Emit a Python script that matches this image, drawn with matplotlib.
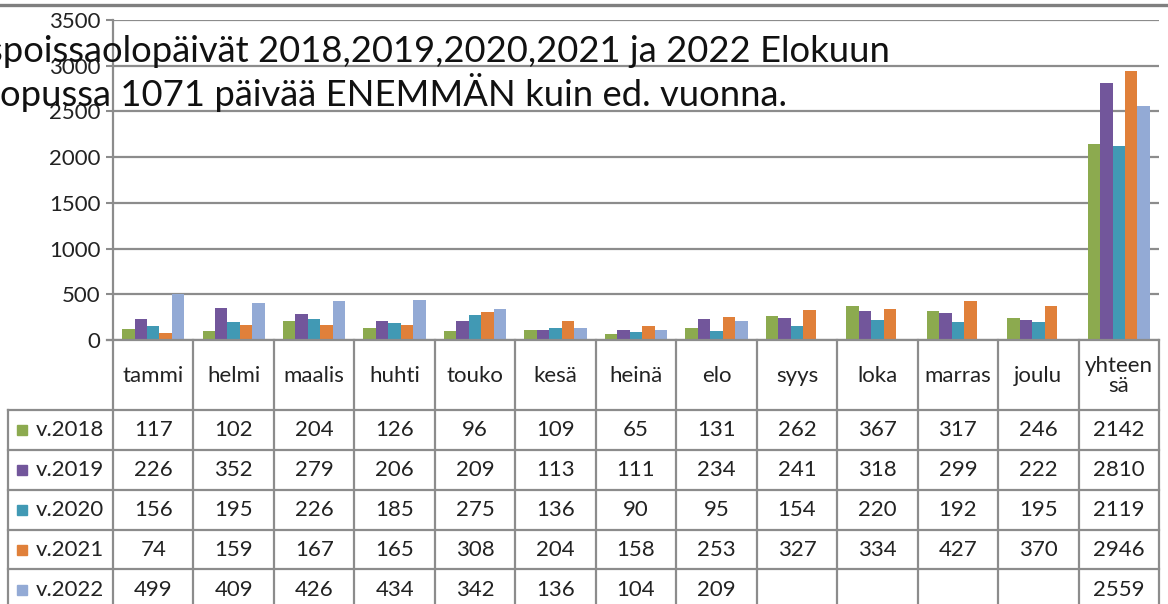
import numpy as np
import matplotlib.pyplot as plt
from matplotlib.patches import Rectangle

plt.rcParams['font.family'] = ['Lato', 'DejaVu Sans']

kuukaudet = ['tammi', 'helmi', 'maalis', 'huhti', 'touko', 'kesä', 'heinä',
             'elo', 'syys', 'loka', 'marras', 'joulu', 'yhteen\nsä']
vuodet = ['v.2018', 'v.2019', 'v.2020', 'v.2021', 'v.2022']
v2018 = [117, 102, 204, 126, 96, 109, 65, 131, 262, 367, 317, 246, 2142]
v2019 = [226, 352, 279, 206, 209, 113, 111, 234, 241, 318, 299, 222, 2810]
v2020 = [156, 195, 226, 185, 275, 136, 90, 95, 154, 220, 192, 195, 2119]
v2021 = [74, 159, 167, 165, 308, 204, 158, 253, 327, 334, 427, 370, 2946]
v2022 = [499, 409, 426, 434, 342, 136, 104, 209, None, None, None, None, 2559]
sarjat = [v2018, v2019, v2020, v2021, v2022]
varit = ['#8CAA4F', '#72569B', '#4199B4', '#E0803A', '#93AAD5']

otsikko1 = 'spoissaolopäivät 2018,2019,2020,2021 ja 2022 Elokuun'
otsikko2 = 'opussa 1071 päivää ENEMMÄN kuin ed. vuonna.'

W, H = 1168, 604
fig = plt.figure(figsize=(W / 100, H / 100), dpi=100)

# pixel helpers
x0, x1 = 113, 1159
y_top, y_zero = 20, 340
ax = fig.add_axes([x0 / W, 1 - y_zero / H, (x1 - x0) / W, (y_zero - y_top) / H])

n = len(kuukaudet)
xs = np.arange(n) + 0.5
bw = 0.155
for j, (s, c) in enumerate(zip(sarjat, varit)):
    vals = np.array([np.nan if v is None else v for v in s], dtype=float)
    ax.bar(xs + (j - 2) * bw, vals, width=bw, color=c, zorder=3)

ax.set_xlim(0, n)
ax.set_ylim(0, 3500)
ax.set_yticks(np.arange(0, 3501, 500))
ax.set_xticks([])
ax.tick_params(axis='y', length=5, width=1.5, color='#8c8c8c', labelsize=16,
               labelcolor='#222222', pad=4)
ax.yaxis.grid(True, color='#8c8c8c', linewidth=1.6, zorder=0)
for k in ['top', 'right', 'bottom']:
    ax.spines[k].set_visible(False)
ax.spines['left'].set_color('#8c8c8c')
ax.spines['left'].set_linewidth(1.6)
ax.set_axisbelow(True)

# overlay in pixel coordinates for table and title
ov = fig.add_axes([0, 0, 1, 1], zorder=5)
ov.set_xlim(0, W)
ov.set_ylim(H, 0)
ov.axis('off')
ov.patch.set_alpha(0)

lc = '#8c8c8c'
lw = 1.6
ov.plot([0, W], [5, 5], color='#7f7f7f', lw=2.4)

cw = (x1 - x0) / n
rows = [410, 450, 490, 530, 569, 610]
ov.plot([x0 - 6, x1], [y_zero, y_zero], color=lc, lw=lw)
for i in range(n + 1):
    xx = x0 + i * cw
    ov.plot([xx, xx], [y_zero, H], color=lc, lw=lw)
for r in rows[:-1]:
    ov.plot([8, x1], [r, r], color=lc, lw=lw)
ov.plot([8, 8], [rows[0], H], color=lc, lw=lw)

for i, k in enumerate(kuukaudet):
    ov.text(x0 + (i + 0.5) * cw, 376, k, ha='center', va='center',
            fontsize=16, color='#222222', linespacing=0.95)

for j, (s, c, nimi) in enumerate(zip(sarjat, varit, vuodet)):
    yc = (rows[j] + rows[j + 1]) / 2
    ov.add_patch(Rectangle((17, yc - 5), 10, 10, color=c))
    ov.text(36, yc, nimi, ha='left', va='center', fontsize=16, color='#222222')
    for i, v in enumerate(s):
        if v is None:
            continue
        ov.text(x0 + (i + 0.5) * cw, yc, str(v), ha='center', va='center',
                fontsize=16, color='#222222')

ov.text(-13, 62, otsikko1, ha='left', va='baseline', fontsize=26.2, color='#111111')
ov.text(0, 106, otsikko2, ha='left', va='baseline', fontsize=26.2, color='#111111')

fig.savefig('out.png', dpi=100)
